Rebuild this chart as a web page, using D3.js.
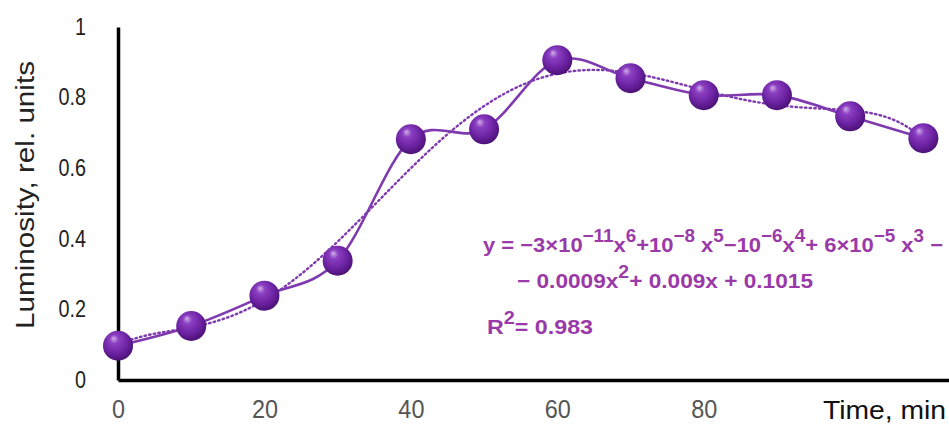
<!DOCTYPE html>
<html>
<head>
<meta charset="utf-8">
<script src="https://cdn.jsdelivr.net/npm/d3@7"></script>
<style>
    body { margin: 0; background: #fff; }
    svg { display: block; font-family: "Liberation Sans", Arial, sans-serif; }
</style>
</head>
<body>
<div id="chart"></div>
<script>
// time, min
const times = [0, 10, 20, 30, 40, 50, 60, 70, 80, 90, 100, 110];
// luminosity, rel. units
const luminosity = [0.097, 0.153, 0.239, 0.338, 0.682, 0.71, 0.906, 0.855, 0.807, 0.807, 0.747, 0.685];
const xTicks = [0, 20, 40, 60, 80];
const yTicks = [0, 0.2, 0.4, 0.6, 0.8, 1];

const width = 949;
const height = 426;
const purple = '#7e3aae';

const svg = d3.select('#chart')
    .append('svg')
    .attr('width', width)
    .attr('height', height);

const x = d3.scaleLinear().domain([0, 113.5]).range([118, 949]);
const y = d3.scaleLinear().domain([0, 1]).range([380, 27]);

// sphere gradient for the markers
const defs = svg.append('defs');
const grad = defs.append('radialGradient')
    .attr('id', 'ball')
    .attr('cx', '45%').attr('cy', '40%').attr('r', '60%')
    .attr('fx', '35%').attr('fy', '25%');
grad.append('stop').attr('offset', '0%').attr('stop-color', '#d2aee8');
grad.append('stop').attr('offset', '25%').attr('stop-color', '#8b3fc2');
grad.append('stop').attr('offset', '70%').attr('stop-color', '#6a21a0');
grad.append('stop').attr('offset', '100%').attr('stop-color', '#4b1275');

// 6th order polynomial trendline (least squares, like Excel)
function polyFit(xs, ys, order) {
    const s = 110;
    const n = order + 1;
    const A = [];
    for (let i = 0; i < n; i++) {
        A.push(new Array(n + 1).fill(0));
    }
    xs.forEach((xv, k) => {
        const t = xv / s;
        for (let i = 0; i < n; i++) {
            for (let j = 0; j < n; j++) A[i][j] += Math.pow(t, i + j);
            A[i][n] += ys[k] * Math.pow(t, i);
        }
    });
    for (let i = 0; i < n; i++) {
        let p = i;
        for (let r = i + 1; r < n; r++) if (Math.abs(A[r][i]) > Math.abs(A[p][i])) p = r;
        [A[i], A[p]] = [A[p], A[i]];
        for (let r = 0; r < n; r++) {
            if (r === i) continue;
            const f = A[r][i] / A[i][i];
            for (let c = i; c <= n; c++) A[r][c] -= f * A[i][c];
        }
    }
    const coef = A.map((row, i) => row[n] / row[i]);
    return xv => coef.reduce((acc, c, i) => acc + c * Math.pow(xv / s, i), 0);
}

const fit = polyFit(times, luminosity, 6);
const trendPts = d3.range(0, 110.01, 0.5).map(t => [t, fit(t)]);

svg.append('path')
    .datum(trendPts)
    .attr('fill', 'none')
    .attr('stroke', purple)
    .attr('stroke-width', 2.4)
    .attr('stroke-dasharray', '1.5,3.2')
    .attr('stroke-linecap', 'round')
    .attr('d', d3.line().x(d => x(d[0])).y(d => y(d[1])));

const data = times.map((t, i) => ({ t: t, v: luminosity[i] }));

svg.append('path')
    .datum(data)
    .attr('fill', 'none')
    .attr('stroke', purple)
    .attr('stroke-width', 2.6)
    .attr('d', d3.line().x(d => x(d.t)).y(d => y(d.v)).curve(d3.curveCatmullRom.alpha(0)));

// squeeze text a bit horizontally, the reference font is narrow
function squeeze(sel, k) {
    sel.each(function () {
        const w = this.getComputedTextLength();
        d3.select(this).attr('textLength', w * k).attr('lengthAdjust', 'spacingAndGlyphs');
    });
}

// axes
const yAxis = svg.append('g')
    .attr('transform', `translate(${x(0)},0)`)
    .call(d3.axisLeft(y).tickValues(yTicks).tickSize(0).tickPadding(32)
        .tickFormat(d => (d === 0 || d === 1) ? String(d) : d.toFixed(1)));
yAxis.select('.domain').attr('stroke', '#000').attr('stroke-width', 3.5);
yAxis.selectAll('text').attr('font-size', 23).attr('fill', '#222')
    .attr('font-family', '"Liberation Sans", Arial, sans-serif');
squeeze(yAxis.selectAll('text'), 0.86);

const xAxis = svg.append('g')
    .attr('transform', `translate(0,${y(0)})`)
    .call(d3.axisBottom(x).tickValues(xTicks).tickSize(0).tickPadding(20));
xAxis.select('.domain').attr('stroke', '#000').attr('stroke-width', 3.5);
xAxis.selectAll('text').attr('font-size', 26).attr('fill', '#555')
    .attr('font-family', '"Liberation Sans", Arial, sans-serif');
squeeze(xAxis.selectAll('text'), 0.9);

svg.append('text')
    .attr('x', 823).attr('y', 419)
    .attr('font-size', 25)
    .attr('fill', '#111')
    .attr('textLength', 123)
    .attr('lengthAdjust', 'spacingAndGlyphs')
    .text('Time, min');

svg.append('text')
    .attr('transform', 'translate(34,195) rotate(-90)')
    .attr('text-anchor', 'middle')
    .attr('font-size', 25)
    .attr('fill', '#222')
    .attr('textLength', 268)
    .attr('lengthAdjust', 'spacingAndGlyphs')
    .text('Luminosity, rel. units');

// markers
svg.selectAll('circle.pt')
    .data(data)
    .enter()
    .append('circle')
    .attr('class', 'pt')
    .attr('cx', d => x(d.t))
    .attr('cy', d => y(d.v))
    .attr('r', 15)
    .attr('fill', 'url(#ball)');

// trendline equation
const eqColor = '#9a3aa8';
const eq = svg.append('g')
    .attr('fill', eqColor)
    .attr('font-weight', 'bold')
    .attr('font-size', 21);

function eqLine(parts, xPos, yPos, len) {
    const t = eq.append('text').attr('x', xPos).attr('y', yPos);
    let up = false;
    parts.forEach(p => {
        const sup = p[1];
        const ts = t.append('tspan').text(p[0]);
        if (sup && !up) { ts.attr('dy', -10).attr('font-size', 18); up = true; }
        else if (sup) { ts.attr('font-size', 18); }
        else if (up) { ts.attr('dy', 10); up = false; }
    });
    if (len) t.attr('textLength', len).attr('lengthAdjust', 'spacingAndGlyphs');
}

eqLine([
    ['y = \u22123\u00d710', false], ['\u221211', true], ['x', false], ['6', true],
    ['+10', false], ['\u22128', true], [' x', false], ['5', true],
    ['\u221210', false], ['\u22126', true], ['x', false], ['4', true],
    ['+ 6\u00d710', false], ['\u22125', true], [' x', false], ['3', true], [' \u2212', false]
], 483, 252, 460);
eqLine([
    ['\u2212 0.0009x', false], ['2', true], ['+ 0.009x + 0.1015', false]
], 517, 288, 296);
eqLine([
    ['R', false], ['2', true], ['= 0.983', false]
], 487, 334, 106);
</script>
</body>
</html>
